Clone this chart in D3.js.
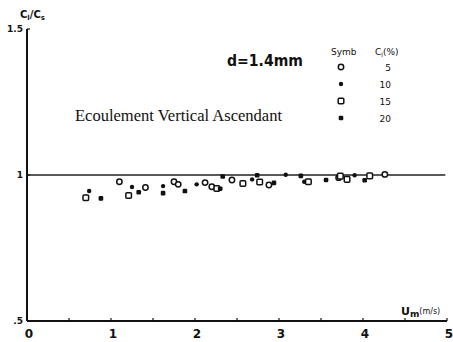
<!DOCTYPE html>
<html>
<head>
<script src="https://d3js.org/d3.v7.min.js"></script>
<style>
  body { margin: 0; background: #fff; }
  svg { display: block; }
  .tick-lab { font-family: "DejaVu Sans", sans-serif; font-weight: bold; font-size: 11px; fill: #111; }
</style>
</head>
<body>
<svg id="chart" width="453" height="342"></svg>
<script>
// data: Um (m/s) vs Cl/Cs, by concentration series
var series5  = [[1.10,0.977],[1.41,0.957],[1.75,0.977],[1.80,0.968],[2.12,0.974],[2.20,0.960],[2.44,0.983],[2.88,0.966],[3.71,0.991],[4.26,1.002]];
var series10 = [[0.74,0.945],[1.25,0.959],[1.62,0.962],[2.02,0.968],[2.68,0.985],[3.08,1.001],[3.30,0.977],[3.90,0.999]];
var series15 = [[0.70,0.922],[1.21,0.930],[2.26,0.954],[2.57,0.971],[2.77,0.976],[3.35,0.977],[3.73,0.996],[3.81,0.985],[4.08,0.997]];
var series20 = [[0.88,0.920],[1.33,0.941],[1.62,0.938],[1.88,0.945],[2.30,0.953],[2.33,0.995],[2.74,0.999],[2.94,0.973],[3.26,0.997],[3.56,0.983],[4.02,0.982]];
var legendLabels = ["5", "10", "15", "20"];
var legendKinds = ["circle", "dot", "square", "dot2"];
var xTicks = [0, 1, 2, 3, 4, 5];
var xMinor = [0.5, 1.5, 2.5, 3.5, 4.5];
var yTicks = [0.5, 1, 1.5];
var yTickLabels = [".5", "1", "1.5"];

var svg = d3.select("#chart");
var x = d3.scaleLinear().domain([0, 5]).range([27, 447]);
var y = d3.scaleLinear().domain([0.5, 1.5]).range([321, 29]);

// axes
svg.append("line").attr("x1", x(0)).attr("x2", x(5)).attr("y1", y(0.5)).attr("y2", y(0.5))
  .attr("stroke", "#111").attr("stroke-width", 2);
svg.append("line").attr("x1", x(0)).attr("x2", x(0)).attr("y1", y(0.5)).attr("y2", y(1.5))
  .attr("stroke", "#111").attr("stroke-width", 2);

// reference line at 1
svg.append("line").attr("x1", x(0)).attr("x2", x(4.98)).attr("y1", y(1)).attr("y2", y(1))
  .attr("stroke", "#222").attr("stroke-width", 1.4);

// x ticks
svg.selectAll(".xt").data(xTicks.concat(xMinor)).enter().append("line")
  .attr("x1", function(d) { return x(d); }).attr("x2", function(d) { return x(d); })
  .attr("y1", y(0.5)).attr("y2", y(0.5) - 3)
  .attr("stroke", "#111").attr("stroke-width", 1.2);
svg.selectAll(".xl").data(xTicks).enter().append("text")
  .attr("class", "tick-lab")
  .style("font-size", "12px")
  .attr("x", function(d) { return x(d) + 2; }).attr("y", 338)
  .attr("text-anchor", "middle")
  .text(function(d) { return d; });

// y ticks
svg.selectAll(".yt").data(yTicks).enter().append("line")
  .attr("x1", x(0)).attr("x2", x(0) + 3)
  .attr("y1", function(d) { return y(d); }).attr("y2", function(d) { return y(d); })
  .attr("stroke", "#111").attr("stroke-width", 1.2);
svg.selectAll(".yl").data(yTicks).enter().append("text")
  .attr("class", "tick-lab")
  .style("font-size", "9px")
  .attr("x", 23).attr("y", function(d) { return y(d) + 3; })
  .attr("text-anchor", "end")
  .text(function(d, i) { return yTickLabels[i]; });

// axis titles
var yt = svg.append("text").attr("x", 20).attr("y", 18)
  .attr("font-family", "DejaVu Sans, sans-serif").attr("font-weight", "bold").attr("font-size", 10).attr("fill", "#111");
yt.append("tspan").text("C");
yt.append("tspan").attr("font-size", 7).attr("dy", 2).text("l");
yt.append("tspan").attr("dy", -2).text("/C");
yt.append("tspan").attr("font-size", 7).attr("dy", 2).text("s");

var xt = svg.append("text").attr("x", 401).attr("y", 315)
  .attr("font-family", "DejaVu Sans, sans-serif").attr("font-weight", "bold").attr("font-size", 11).attr("fill", "#111");
xt.append("tspan").text("U");
xt.append("tspan").attr("font-size", 9).attr("dy", 2).text("m");
xt.append("tspan").attr("font-size", 8).attr("dy", -3).attr("font-weight", "normal").text("(m/s)");

// annotations
svg.append("text").attr("x", 227).attr("y", 66)
  .attr("font-family", "DejaVu Sans, sans-serif").attr("font-weight", "bold").attr("font-size", 15).attr("fill", "#111")
  .attr("textLength", 76).attr("lengthAdjust", "spacingAndGlyphs")
  .text("d=1.4mm");
svg.append("text").attr("x", 75).attr("y", 121)
  .attr("font-family", "Liberation Serif, serif").attr("font-size", 16).attr("fill", "#111")
  .attr("textLength", 207).attr("lengthAdjust", "spacingAndGlyphs")
  .text("Ecoulement Vertical Ascendant");

// legend
svg.append("text").attr("x", 331).attr("y", 55)
  .attr("font-family", "DejaVu Sans, sans-serif").attr("font-size", 9).attr("fill", "#111").text("Symb");
var lh = svg.append("text").attr("x", 375).attr("y", 55)
  .attr("font-family", "DejaVu Sans, sans-serif").attr("font-size", 9).attr("fill", "#111");
lh.append("tspan").text("C");
lh.append("tspan").attr("font-size", 6).attr("dy", 2).text("l");
lh.append("tspan").attr("dy", -2).text("(%)");

function drawSymbol(g, kind, cx, cy) {
  if (kind === "circle") {
    g.append("circle").attr("cx", cx).attr("cy", cy).attr("r", 2.7)
      .attr("fill", "#fff").attr("stroke", "#111").attr("stroke-width", 1.5);
  } else if (kind === "square") {
    g.append("rect").attr("x", cx - 2.8).attr("y", cy - 2.8).attr("width", 5.6).attr("height", 5.6).attr("rx", 1)
      .attr("fill", "#fff").attr("stroke", "#111").attr("stroke-width", 1.5);
  } else if (kind === "dot") {
    g.append("circle").attr("cx", cx).attr("cy", cy).attr("r", 2.2).attr("fill", "#111");
  } else {
    g.append("rect").attr("x", cx - 2.3).attr("y", cy - 2.3).attr("width", 4.6).attr("height", 4.6).attr("rx", 1.2).attr("fill", "#111");
  }
}

var legendY = d3.scalePoint().domain(legendLabels).range([67, 118]);
legendLabels.forEach(function(lab, i) {
  drawSymbol(svg, legendKinds[i], 341, legendY(lab));
  svg.append("text").attr("x", 391).attr("y", legendY(lab) + 3.5).attr("text-anchor", "end")
    .attr("font-family", "DejaVu Sans, sans-serif").attr("font-size", 9).attr("fill", "#111").text(lab);
});

// points
var allSeries = [series5, series10, series15, series20];
var pts = svg.append("g");
allSeries.forEach(function(s, i) {
  s.forEach(function(d) { drawSymbol(pts, legendKinds[i], x(d[0]), y(d[1])); });
});
</script>
</body>
</html>
